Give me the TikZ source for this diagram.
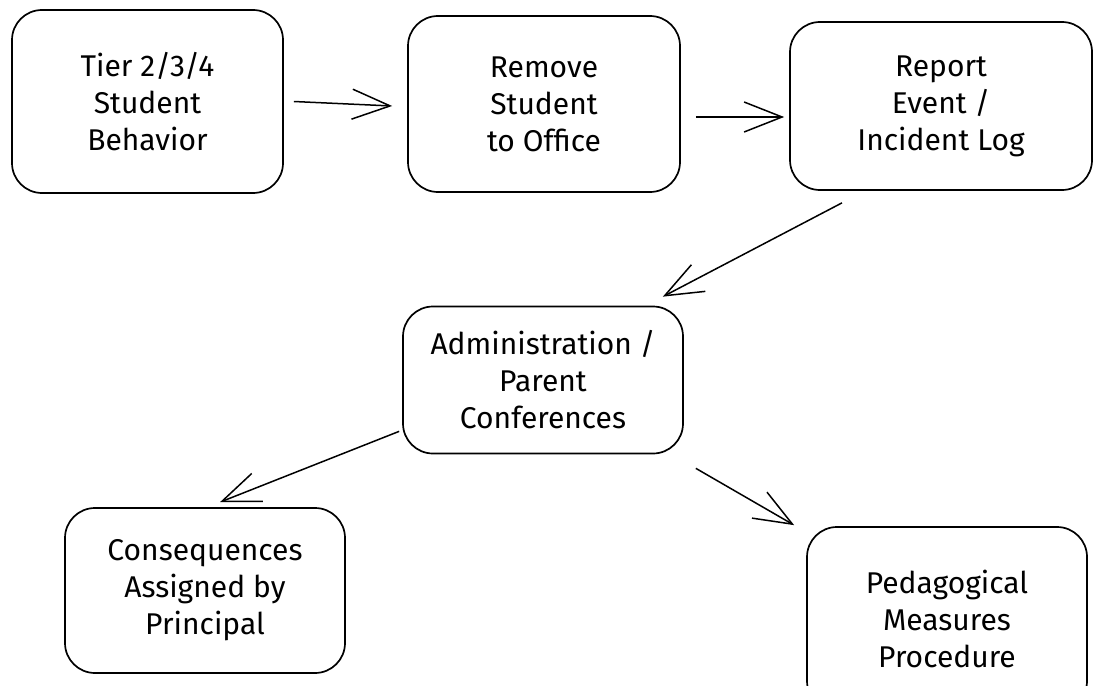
\documentclass[tikz,border=0pt]{standalone}
\usepackage{fontspec}
\setmainfont{Fira Sans}
\usepackage{tikz}
\usetikzlibrary{arrows.meta}

\begin{document}
\begin{tikzpicture}[x=1pt, y=-1pt, line width=1.7pt]

\useasboundingbox (0,0) rectangle (1099,685);
\clip (0,0) rectangle (1099,685);

\path [every node/.style={draw, rounded corners=30pt, align=center, anchor=center,
    font=\fontsize{30}{37}\selectfont}]
  node[minimum width=271pt, minimum height=183pt] (tier) at (147.5,101.5) {Tier 2/3/4\\Student\\Behavior}
  node[minimum width=272pt, minimum height=176pt] (remove) at (544,104) {Remove\\Student\\to Office}
  node[minimum width=302pt, minimum height=168pt] (report) at (941,106) {Report\\Event /\\Incident Log}
  node[minimum width=280pt, minimum height=147pt] (admin) at (543,380) {Administration /\\Parent\\Conferences}
  node[minimum width=280pt, minimum height=165pt] (conseq) at (205,590.5) {Consequences\\Assigned by\\Principal}
  node[minimum width=280pt, minimum height=184pt] (pedag) at (947,619) {Pedagogical\\Measures\\Procedure};

\begin{scope}[-{Straight Barb[length=38pt, width=30pt, line width=1.5pt]}, line width=1.5pt]
	% fila de arriba
	\draw ([xshift=10pt]tier.east) -- ([xshift=-15pt,yshift=-2pt]remove.west) ;
	\draw ([xshift=15pt,yshift=-13pt]remove.east) -- ([xshift=-5pt,yshift=-11pt]report.west) ;
	% bajada al centro
	\draw ([xshift=-99pt,yshift=-12pt]report.south) -- ([xshift=-21pt,yshift=9pt]admin.north east) ;
	% salidas abajo
	\draw ([xshift=-3pt,yshift=23pt]admin.south west) -- ([xshift=15pt,yshift=5pt]conseq.north) ;
	\draw ([xshift=12pt,yshift=-14pt]admin.south east) -- ([xshift=-12pt,yshift=1pt]pedag.north west) ;
\end{scope}

\end{tikzpicture}
\end{document}
